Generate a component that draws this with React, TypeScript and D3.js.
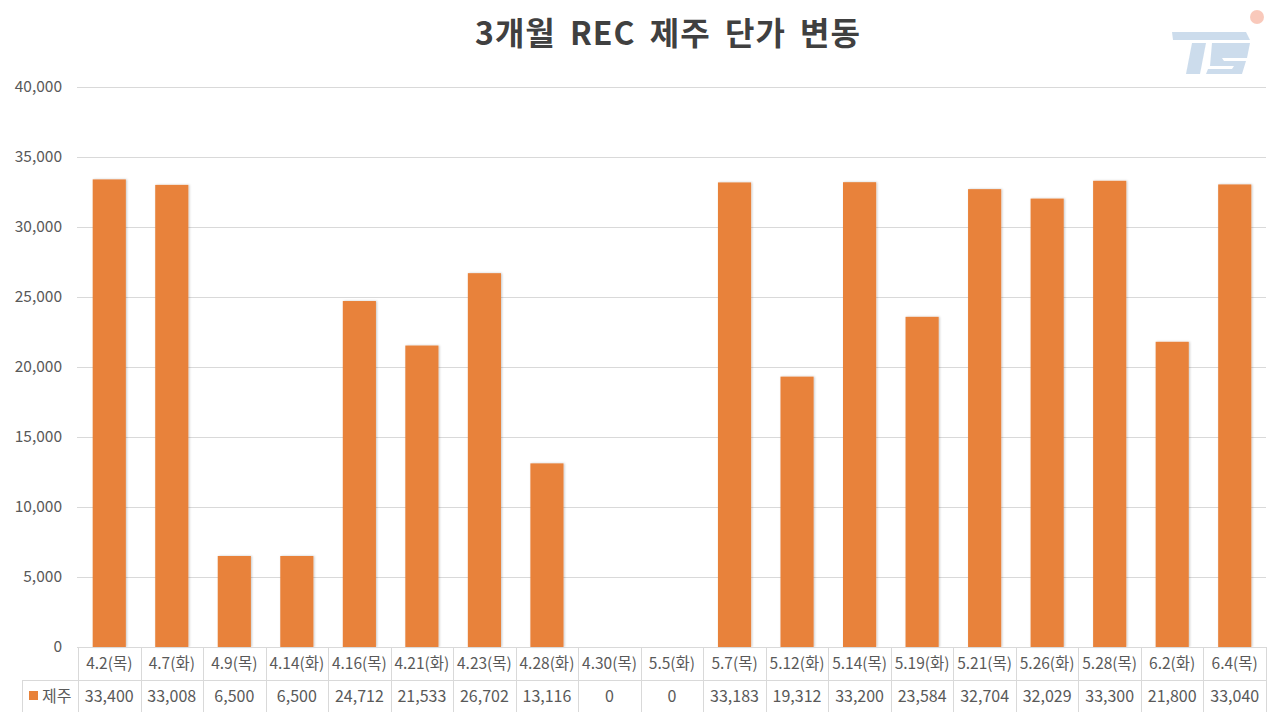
import { useEffect, useRef } from "react";
import * as d3 from "d3";

const categories = [
    "4.2(목)", "4.7(화)", "4.9(목)", "4.14(화)", "4.16(목)", "4.21(화)", "4.23(목)", "4.28(화)",
    "4.30(목)", "5.5(화)", "5.7(목)", "5.12(화)", "5.14(목)", "5.19(화)", "5.21(목)", "5.26(화)",
    "5.28(목)", "6.2(화)", "6.4(목)",
];
const jejuValues = [
    33400, 33008, 6500, 6500, 24712, 21533, 26702, 13116, 0, 0, 33183, 19312, 33200, 23584,
    32704, 32029, 33300, 21800, 33040,
];
const yTicks = [0, 5000, 10000, 15000, 20000, 25000, 30000, 35000, 40000];
const seriesName = "제주";
const title = "3개월 REC 제주 단가 변동";

const W = 1280;
const H = 720;
const FONT = "'Noto Sans CJK KR', 'Noto Sans', sans-serif";

export default function App() {
    const svgRef = useRef<SVGSVGElement | null>(null);

    useEffect(() => {
        const svg = d3.select(svgRef.current!);
        svg.selectAll("*").remove();

        const left = 78;
        const right = 1266;
        const top = 87;
        const bottom = 647;
        const rowH = 33;
        const legendLeft = 22;

        const x = d3.scaleBand<string>().domain(categories).range([left, right]).padding(0);
        const y = d3.scaleLinear().domain([0, 40000]).range([bottom, top]);
        const fmt = d3.format(",");

        const defs = svg.append("defs");
        const f = defs.append("filter").attr("id", "shadow").attr("x", "-20%").attr("y", "-5%").attr("width", "140%").attr("height", "110%");
        f.append("feDropShadow").attr("dx", 1).attr("dy", 0).attr("stdDeviation", 1.2).attr("flood-color", "#000").attr("flood-opacity", 0.22);

        // title
        svg.append("text")
            .attr("x", 668)
            .attr("y", 45)
            .attr("text-anchor", "middle")
            .attr("font-family", FONT)
            .attr("font-weight", "bold")
            .attr("font-size", 32)
            .attr("letter-spacing", 1)
            .attr("word-spacing", 6)
            .attr("fill", "#404040")
            .text(title);

        // logo
        const logo = svg.append("g").attr("transform", "translate(1170,26)").attr("opacity", 0.45);
        logo.append("path").attr("d", "M2,6 L76,6 L80,14 L3,14 Z").attr("fill", "#8fb2d6");
        logo.append("path").attr("d", "M22,17 L36,17 L30,48 L16,48 Z").attr("fill", "#8fb2d6");
        logo.append("path").attr("d", "M42,17 L80,17 L77,32 L52,32 L54,35 L76,35 L72,48 L36,48 L38,43 L62,43 L64,40 L40,40 Z").attr("fill", "#8fb2d6");
        logo.append("circle").attr("cx", 87).attr("cy", -9).attr("r", 7).attr("fill", "#f28a6a");

        // gridlines
        svg.append("g")
            .selectAll("line")
            .data(yTicks)
            .join("line")
            .attr("x1", left - 1)
            .attr("x2", right)
            .attr("y1", (d) => y(d) + 0.5)
            .attr("y2", (d) => y(d) + 0.5)
            .attr("stroke", "#d9d9d9")
            .attr("stroke-width", 1);

        // y axis labels
        svg.append("g")
            .selectAll("text")
            .data(yTicks)
            .join("text")
            .attr("x", 62)
            .attr("y", (d) => y(d) + 5)
            .attr("text-anchor", "end")
            .attr("font-family", FONT)
            .attr("font-size", 15.5)
            .attr("fill", "#595959")
            .text((d) => fmt(d));

        // bars
        const bw = x.bandwidth() * 0.53;
        svg.append("g")
            .selectAll("rect")
            .data(jejuValues.map((v, i) => ({ v, c: categories[i] })))
            .join("rect")
            .filter((d) => d.v > 0)
            .attr("x", (d) => x(d.c)! + (x.bandwidth() - bw) / 2)
            .attr("width", bw)
            .attr("y", (d) => y(d.v))
            .attr("height", (d) => y(0) - y(d.v))
            .attr("fill", "#e8823a")
            .attr("filter", "url(#shadow)");

        // data table
        const t = svg.append("g").attr("stroke", "#d9d9d9").attr("stroke-width", 1);
        t.append("line").attr("x1", left).attr("x2", right).attr("y1", bottom + 0.5).attr("y2", bottom + 0.5);
        t.append("line").attr("x1", legendLeft).attr("x2", right).attr("y1", bottom + rowH + 0.5).attr("y2", bottom + rowH + 0.5);
        t.append("line").attr("x1", legendLeft).attr("x2", right).attr("y1", bottom + 2 * rowH + 0.5).attr("y2", bottom + 2 * rowH + 0.5);
        t.append("line").attr("x1", legendLeft + 0.5).attr("x2", legendLeft + 0.5).attr("y1", bottom + rowH).attr("y2", bottom + 2 * rowH);
        t.selectAll("line.v")
            .data([...categories.map((c) => x(c)!), right])
            .join("line")
            .attr("class", "v")
            .attr("x1", (d) => Math.round(d) + 0.5)
            .attr("x2", (d) => Math.round(d) + 0.5)
            .attr("y1", bottom)
            .attr("y2", bottom + 2 * rowH);

        const cx = (c: string) => x(c)! + x.bandwidth() / 2;
        svg.append("g")
            .selectAll("text")
            .data(categories)
            .join("text")
            .attr("x", (d) => cx(d))
            .attr("y", bottom + 22)
            .attr("text-anchor", "middle")
            .attr("font-family", FONT)
            .attr("font-size", 15.5)
            .attr("fill", "#595959")
            .text((d) => d);

        svg.append("g")
            .selectAll("text")
            .data(jejuValues.map((v, i) => ({ v, c: categories[i] })))
            .join("text")
            .attr("x", (d) => cx(d.c))
            .attr("y", bottom + rowH + 22)
            .attr("text-anchor", "middle")
            .attr("font-family", FONT)
            .attr("font-size", 16)
            .attr("fill", "#595959")
            .text((d) => fmt(d.v));

        // legend key
        svg.append("rect")
            .attr("x", 29)
            .attr("y", bottom + rowH + 11)
            .attr("width", 9)
            .attr("height", 9)
            .attr("fill", "#e8823a");
        svg.append("text")
            .attr("x", 42)
            .attr("y", bottom + rowH + 22)
            .attr("font-family", FONT)
            .attr("font-size", 16)
            .attr("fill", "#595959")
            .text(seriesName);
    }, []);

    return (
        <div style={{ width: W, height: H, margin: -8, background: "#fff" }}>
            <svg ref={svgRef} width={W} height={H} style={{ display: "block" }} />
        </div>
    );
}
